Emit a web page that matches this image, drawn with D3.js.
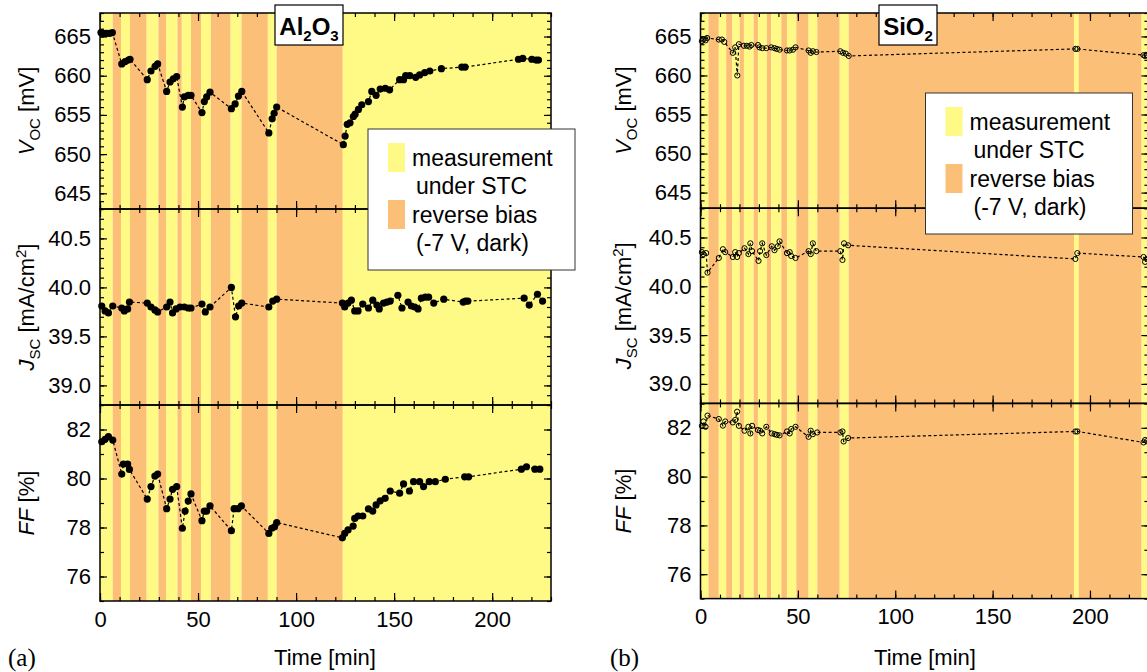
<!DOCTYPE html>
<html>
<head>
<meta charset="utf-8">
<script src="https://cdn.jsdelivr.net/npm/d3@7"></script>
<style>
  body { margin: 0; background: #fff; }
  text { font-family: "Liberation Sans", Arial, sans-serif; }
</style>
</head>
<body>
<svg id="chart" width="1147" height="672"></svg>
<script>
// ---- data ----
var timeTicks = [0, 50, 100, 150, 200];
var vocTicks = [645, 650, 655, 660, 665];
var jscTicks = [39.0, 39.5, 40.0, 40.5];
var ffTicks = [76, 78, 80, 82];

// band edges (min); bands alternate, first one is "measurement under STC"
var alBandEdges = [0, 6.5, 10.7, 15.3, 23.8, 29.8, 33.7, 39.5, 41.7, 46.4, 51.5, 56.5, 66.6, 72.2, 85.6, 90.1, 123.8, 230];
var siBandEdges = [0, 4.1, 9.4, 13.2, 16.3, 20.1, 22.3, 27.3, 29.5, 34.1, 36.3, 41.5, 44.4, 49.2, 55.5, 60, 71.5, 76.1, 191.8, 194.2, 226.5, 230];

// Al2O3: [time, value]
var alVoc = [[0.5,665.5],[1.8,665.4],[3.2,665.4],[4.8,665.4],[6.3,665.5],
  [11.1,661.5],[12.8,661.8],[14.5,662.0],[15.3,662.1],
  [24.1,659.5],[26.0,660.6],[28.1,661.2],[29.4,661.5],
  [34.0,658.0],[35.7,659.2],[37.4,659.6],[39.1,659.9],
  [42.0,656.0],[43.0,657.3],[45.0,657.5],[46.4,657.5],
  [52.0,655.3],[53.2,656.7],[54.4,657.3],[56.1,657.9],
  [67.0,655.8],[68.9,656.4],[70.6,657.4],[72.3,658.0],
  [86.1,652.7],[87.8,654.5],[88.8,655.2],[90.1,656.0],
  [124.1,651.2],[125.0,652.3],[126.1,653.8],[127.5,654.0],[129.2,654.8],[130.1,655.1],
  [131.8,655.7],[133.5,656.3],[136.9,656.7],[138.6,658.0],[140.8,657.5],[142.9,658.3],
  [145.5,658.4],[147.7,658.2],[152.8,659.5],[154.8,659.5],[155.9,660.0],[158.0,660.0],
  [161.0,659.8],[163.0,660.1],[165.6,660.4],[168.2,660.6],[174.1,660.9],[184.5,661.1],
  [186.2,661.1],[213.4,662.1],[215.6,662.2],[220.2,662.1],[222.4,662.0],[223.6,662.0]];
var alJsc = [[0.9,39.81],[2.6,39.76],[4.3,39.74],[6.5,39.81],
  [11.1,39.79],[12.4,39.76],[14.1,39.78],[15.0,39.85],
  [24.1,39.84],[26.0,39.80],[28.0,39.77],[29.4,39.75],
  [34.0,39.80],[35.7,39.85],[37.0,39.74],[38.8,39.78],[40.8,39.80],[43.0,39.80],[45.0,39.79],[46.4,39.79],
  [52.0,39.83],[53.7,39.75],[56.1,39.80],
  [67.0,40.00],[69.1,39.70],[70.7,39.81],[72.3,39.84],
  [86.1,39.80],[88.1,39.86],[90.1,39.88],
  [123.6,39.84],[124.8,39.80],[126.5,39.84],[128.2,39.87],[129.9,39.76],[131.6,39.76],
  [134.0,39.83],[136.9,39.79],[139.1,39.87],[141.2,39.82],[142.4,39.78],[144.6,39.84],
  [146.3,39.85],[148.0,39.86],[151.9,39.92],[154.0,39.79],[157.1,39.85],[158.8,39.81],
  [160.5,39.80],[162.2,39.78],[163.9,39.89],[165.9,39.90],[167.6,39.90],[170.2,39.84],
  [175.3,39.88],[185.2,39.85],[186.4,39.86],[187.6,39.86],[216.3,39.89],[218.9,39.82],
  [223.1,39.93],[225.7,39.86]];
var alFf = [[0.9,81.50],[2.6,81.60],[4.3,81.71],[6.5,81.57],
  [11.1,80.18],[11.9,80.59],[14.1,80.59],[15.0,80.37],
  [24.1,79.16],[26.0,79.67],[28.0,80.10],[29.4,80.18],
  [34.0,78.77],[35.7,79.16],[37.0,79.56],[39.1,79.67],
  [42.0,77.97],[43.4,78.67],[45.0,79.08],[46.4,79.37],
  [52.0,78.28],[53.2,78.67],[54.4,78.67],[56.1,78.88],
  [67.0,77.87],[68.4,78.77],[70.4,78.77],[72.1,78.88],
  [86.1,77.76],[87.6,77.97],[89.0,78.03],[90.1,78.20],
  [123.6,77.58],[124.8,77.76],[126.5,77.90],[129.1,78.06],[129.9,78.37],[131.6,78.47],
  [134.0,78.47],[136.9,78.76],[139.1,78.67],[140.8,78.92],[142.9,79.09],[145.4,79.19],
  [148.0,79.49],[152.8,79.40],[154.8,79.78],[157.8,79.49],[159.9,79.87],[163.0,79.87],
  [165.0,79.67],[167.9,79.87],[171.0,79.87],[176.1,79.97],[186.0,80.07],[188.0,80.07],
  [214.9,80.38],[217.5,80.48],[221.8,80.38],[224.3,80.38]];

// SiO2: [time, value]
var siVoc = [[0.7,664.4],[1.5,664.6],[2.6,664.5],[3.4,664.8],
  [9.4,664.6],[11.0,664.6],[12.2,664.3],
  [16.6,662.9],[17.8,663.6],[18.9,660.0],[19.7,664.0],
  [22.3,663.8],[23.8,663.8],[25.2,663.7],[26.1,663.9],
  [29.5,663.9],[30.3,663.6],[31.7,663.5],[33.8,663.5],
  [36.3,663.6],[38.0,663.5],[39.2,663.4],[40.6,663.3],
  [44.4,663.2],[45.8,663.2],[47.5,663.3],[48.8,663.6],
  [55.5,663.2],[56.6,662.9],[57.7,663.1],[59.5,663.0],
  [71.8,663.1],[73.2,662.9],[74.6,662.8],[76.1,662.5],
  [192.5,663.4],[193.5,663.4],
  [227.5,662.6],[228.3,662.5],[229.2,662.6]];
var siJsc = [[0.7,40.35],[1.5,40.33],[2.9,40.34],[3.6,40.14],
  [9.4,40.29],[11.5,40.38],[12.7,40.35],
  [16.6,40.30],[17.8,40.35],[18.8,40.30],[19.7,40.34],
  [22.6,40.39],[24.6,40.33],[25.6,40.44],[26.5,40.36],
  [29.8,40.26],[30.6,40.36],[31.7,40.44],[33.8,40.32],
  [36.6,40.41],[38.0,40.37],[39.7,40.41],[40.6,40.46],
  [44.4,40.34],[45.8,40.35],[46.6,40.31],[48.8,40.29],
  [55.5,40.36],[56.6,40.33],[57.7,40.44],[59.5,40.36],
  [71.8,40.36],[72.9,40.27],[73.7,40.44],[75.8,40.42],
  [192.5,40.28],[193.5,40.34],
  [227.5,40.30],[228.3,40.25],[229.2,40.28]];
var siFf = [[0.7,82.08],[1.5,82.26],[2.6,82.04],[3.6,82.50],
  [9.4,82.36],[11.5,82.09],[12.7,82.26],
  [16.6,82.22],[17.8,82.32],[18.8,82.66],[19.7,82.08],
  [22.6,81.88],[24.6,82.04],[25.6,81.77],[26.5,82.08],
  [29.5,81.91],[30.6,81.88],[31.7,81.77],[33.8,82.04],
  [36.6,81.77],[38.0,81.74],[39.2,81.71],[40.6,81.69],
  [44.4,81.85],[45.8,81.77],[46.6,81.95],[48.8,82.04],
  [55.5,81.63],[56.6,81.88],[57.7,81.74],[59.9,81.81],
  [71.8,81.81],[72.9,81.85],[73.5,81.44],[75.8,81.58],
  [192.5,81.85],[193.5,81.85],
  [227.5,81.40],[228.3,81.50],[229.2,81.45]];

var legendLabels = [["measurement", "under STC"], ["reverse bias", "(-7 V, dark)"]];

// ---- style ----
var yellow = "#fffa85", orange = "#fcbf78";
var svg = d3.select("#chart");
svg.append("rect").attr("width", 1147).attr("height", 672).attr("fill", "#fff");

var rows = [
  {domain: [643, 668], ticks: vocTicks, minor: d3.range(643, 669, 1), fmt: d3.format("d")},
  {domain: [38.8, 40.8], ticks: jscTicks, minor: d3.range(388, 409, 1).map(function(v){ return v / 10; }), fmt: d3.format(".1f")},
  {domain: [75, 83], ticks: ffTicks, minor: d3.range(75, 84, 1), fmt: d3.format("d")}
];

function yTitle(g, cx, cy, row) {
  var t = g.append("text")
    .attr("transform", "translate(" + cx + "," + cy + ") rotate(-90)")
    .attr("text-anchor", "middle")
    .style("font-size", "22px");
  if (row === 0) {
    t.append("tspan").style("font-style", "italic").text("V");
    t.append("tspan").attr("dy", 6).style("font-size", "15px").text("OC");
    t.append("tspan").attr("dy", -6).text(" [mV]");
  } else if (row === 1) {
    t.append("tspan").style("font-style", "italic").text("J");
    t.append("tspan").attr("dy", 6).style("font-size", "15px").text("SC");
    t.append("tspan").attr("dy", -6).text(" [mA/cm");
    t.append("tspan").attr("dy", -8).style("font-size", "15px").text("2");
    t.append("tspan").attr("dy", 8).text("]");
  } else {
    t.append("tspan").style("font-style", "italic").text("FF");
    t.append("tspan").text(" [%]");
  }
}

function drawPanel(p) {
  var g = svg.append("g");
  var x = d3.scaleLinear().domain([0, 230]).range([p.left, p.right]);
  var bottomAll = p.top + 3 * p.h;

  // background bands
  var bands = d3.pairs(p.edges);
  g.selectAll(".band").data(bands).enter().append("rect")
    .attr("x", function(d) { return x(d[0]); })
    .attr("width", function(d) { return x(d[1]) - x(d[0]); })
    .attr("y", p.top).attr("height", bottomAll - p.top)
    .attr("fill", function(d, i) { return i % 2 === 0 ? yellow : orange; });

  rows.forEach(function(row, i) {
    var top = p.top + i * p.h, bottom = top + p.h;
    var y = d3.scaleLinear().domain(row.domain).range([bottom, top]);
    var data = p.series[i];

    g.append("path").datum(data)
      .attr("fill", "none").attr("stroke", "#000")
      .attr("stroke-width", 1.2).attr("stroke-dasharray", "3,2.5")
      .attr("d", d3.line().x(function(d) { return x(d[0]); }).y(function(d) { return y(d[1]); }));

    g.selectAll(".pt" + i).data(data).enter().append("circle")
      .attr("cx", function(d) { return x(d[0]); })
      .attr("cy", function(d) { return y(d[1]); })
      .attr("r", p.filled ? 3.6 : 2.6)
      .attr("fill", p.filled ? "#000" : "none")
      .attr("stroke", "#000").attr("stroke-width", p.filled ? 0 : 1);

    var noDomain = function(s) { s.select(".domain").remove(); s.selectAll("line").attr("stroke-width", 1.2); };
    // left
    g.append("g").attr("transform", "translate(" + p.left + ",0)")
      .call(d3.axisLeft(y).tickValues(row.ticks).tickSize(-7).tickPadding(9).tickFormat(row.fmt))
      .call(noDomain)
      .selectAll("text").style("font-size", "22px").attr("fill", "#000");
    g.append("g").attr("transform", "translate(" + p.left + ",0)")
      .call(d3.axisLeft(y).tickValues(row.minor).tickSize(-4).tickFormat(""))
      .call(noDomain);
    // right
    g.append("g").attr("transform", "translate(" + p.right + ",0)")
      .call(d3.axisRight(y).tickValues(row.ticks).tickSize(-7).tickFormat(""))
      .call(noDomain);
    g.append("g").attr("transform", "translate(" + p.right + ",0)")
      .call(d3.axisRight(y).tickValues(row.minor).tickSize(-4).tickFormat(""))
      .call(noDomain);
    // top
    g.append("g").attr("transform", "translate(0," + top + ")")
      .call(d3.axisTop(x).tickValues(timeTicks).tickSize(-8).tickFormat(""))
      .call(noDomain);
    g.append("g").attr("transform", "translate(0," + top + ")")
      .call(d3.axisTop(x).tickValues(d3.range(0, 231, 10)).tickSize(-4).tickFormat(""))
      .call(noDomain);
    // bottom
    var bx = g.append("g").attr("transform", "translate(0," + bottom + ")")
      .call(d3.axisBottom(x).tickValues(timeTicks).tickSize(-8).tickPadding(10)
        .tickFormat(i === 2 ? d3.format("d") : ""))
      .call(noDomain);
    bx.selectAll("text").style("font-size", "22px").attr("fill", "#000");
    g.append("g").attr("transform", "translate(0," + bottom + ")")
      .call(d3.axisBottom(x).tickValues(d3.range(0, 231, 10)).tickSize(-4).tickFormat(""))
      .call(noDomain);

    g.append("rect").attr("x", p.left).attr("y", top)
      .attr("width", p.right - p.left).attr("height", p.h)
      .attr("fill", "none").attr("stroke", "#000").attr("stroke-width", 1.5);

    yTitle(g, p.left - p.titleOff, top + p.h / 2, i);
  });

  // x title and panel letter
  g.append("text").attr("x", p.xTitle).attr("y", 665).attr("text-anchor", "middle")
    .style("font-size", "22px").text("Time [min]");
  g.append("text").attr("x", p.letterX).attr("y", 666)
    .style("font-family", "'Liberation Serif', 'Times New Roman', serif")
    .style("font-size", "25px").text(p.letter);

  // material label box
  var mb = g.append("g").attr("transform", "translate(" + p.matX + ",5)");
  mb.append("rect").attr("width", p.matW).attr("height", 40)
    .attr("fill", "#fff").attr("stroke", "#000").attr("stroke-width", 1.2);
  var mt = mb.append("text").attr("x", p.matW / 2).attr("y", 30).attr("text-anchor", "middle")
    .style("font-size", "24px").style("font-weight", "bold");
  p.material.forEach(function(part) {
    if (part.sub) mt.append("tspan").attr("dy", 6).style("font-size", "15px").text(part.t);
    else mt.append("tspan").attr("dy", part.first ? 0 : -6).text(part.t);
  });

  // legend
  var lg = g.append("g").attr("transform", "translate(" + p.legX + "," + p.legY + ")");
  lg.append("rect").attr("width", 207).attr("height", 141)
    .attr("fill", "#fff").attr("stroke", "#333").attr("stroke-width", 1);
  legendLabels.forEach(function(lines, k) {
    lg.append("rect").attr("x", 20).attr("y", 14 + k * 57).attr("width", 17).attr("height", 29)
      .attr("fill", k === 0 ? yellow : orange);
    lines.forEach(function(s, j) {
      lg.append("text").attr("x", j === 0 ? 44 : 48).attr("y", 37 + k * 57 + j * 28)
        .style("font-size", "23px").text(s);
    });
  });
}

drawPanel({
  left: 100, right: 551, top: 13, h: 196, edges: alBandEdges,
  series: [alVoc, alJsc, alFf], filled: true,
  xTitle: 325, letter: "(a)", letterX: 8, titleOff: 66,
  matX: 275, matW: 68,
  material: [{t: "Al", first: true}, {t: "2", sub: true}, {t: "O"}, {t: "3", sub: true}],
  legX: 368, legY: 129
});
drawPanel({
  left: 700.5, right: 1148.4, top: 13, h: 195.2, edges: siBandEdges,
  series: [siVoc, siJsc, siFf], filled: false,
  xTitle: 925, letter: "(b)", letterX: 610, titleOff: 70,
  matX: 879, matW: 58,
  material: [{t: "SiO", first: true}, {t: "2", sub: true}],
  legX: 925.5, legY: 93
});
</script>
</body>
</html>
